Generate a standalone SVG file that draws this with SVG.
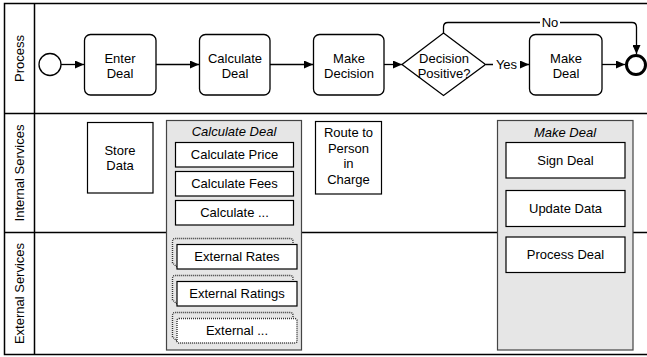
<svg xmlns="http://www.w3.org/2000/svg" width="647" height="357" viewBox="0 0 647 357">
  <style>
    text { font-family: "Liberation Sans", Arial, sans-serif; font-size: 13px; fill: #000; text-anchor: middle; }
    .lane { fill: none; stroke: #000; stroke-width: 1.5; }
    .task { fill: #fff; stroke: #000; stroke-width: 1.3; }
    .svc { fill: #fff; stroke: #000; stroke-width: 1.2; }
    .group { fill: #e6e6e6; stroke: #444; stroke-width: 1.2; }
    .ext { fill: none; stroke: #333; stroke-width: 1.4; stroke-dasharray: 1 1; }
    .extin { fill: #fff; stroke: #333; stroke-width: 1.4; stroke-dasharray: 1 1; }
    .flow { fill: none; stroke: #000; stroke-width: 1.3; }
    .title { font-style: italic; }
  </style>
  <defs>
    <marker id="arrow" markerUnits="userSpaceOnUse" markerWidth="10" markerHeight="8" refX="9" refY="4" orient="auto">
      <path d="M0,0 L9,4 L0,8 Z" fill="#000"/>
    </marker>
  </defs>

  <rect width="647" height="357" fill="#fff"/>

  <!-- pool frame and lanes -->
  <g id="pool">
    <path class="lane" d="M650,3.5 H4.5 V354.5 H650"/>
    <line class="lane" x1="34.5" y1="3.5" x2="34.5" y2="354.5"/>
    <line class="lane" x1="4.5" y1="113.5" x2="650" y2="113.5"/>
    <line class="lane" x1="4.5" y1="232.5" x2="650" y2="232.5"/>
    <text transform="translate(24,58.5) rotate(-90)">Process</text>
    <text transform="translate(24,173) rotate(-90)">Internal Services</text>
    <text transform="translate(24,293.5) rotate(-90)">External Services</text>
  </g>

  <!-- sequence flows -->
  <g id="connectors">
    <path class="flow" d="M61,64.5 H84" marker-end="url(#arrow)"/>
    <path class="flow" d="M156,64.5 H199" marker-end="url(#arrow)"/>
    <path class="flow" d="M270,64.5 H313" marker-end="url(#arrow)"/>
    <path class="flow" d="M384,64.5 H402" marker-end="url(#arrow)"/>
    <path class="flow" d="M486,64.5 H529" marker-end="url(#arrow)"/>
    <path class="flow" d="M602,64.5 H625" marker-end="url(#arrow)"/>
    <path class="flow" d="M443.5,33 V27 Q443.5,22.5 448,22.5 H632 Q636.5,22.5 636.5,27 V54" marker-end="url(#arrow)"/>
    <rect x="493" y="57" width="27" height="15" fill="#fff"/>
    <text x="506.5" y="69">Yes</text>
    <rect x="540" y="15" width="20" height="15" fill="#fff"/>
    <text x="550" y="27">No</text>
  </g>

  <!-- process lane -->
  <g id="start">
    <circle cx="50" cy="64.5" r="11" fill="#fff" stroke="#000" stroke-width="1.3"/>
  </g>
  <g id="enter-deal">
    <rect class="task" x="84.5" y="34.5" width="71.5" height="60.5" rx="6"/>
    <text x="120" y="62.5">Enter</text>
    <text x="120" y="77.5">Deal</text>
  </g>
  <g id="calculate-deal">
    <rect class="task" x="199.5" y="34.5" width="70.5" height="60.5" rx="6"/>
    <text x="235" y="62.5">Calculate</text>
    <text x="235" y="77.5">Deal</text>
  </g>
  <g id="make-decision">
    <rect class="task" x="313.5" y="34.5" width="70.5" height="60.5" rx="6"/>
    <text x="349" y="62.5">Make</text>
    <text x="349" y="77.5">Decision</text>
  </g>
  <g id="decision-gateway">
    <path d="M443.5,33 L485.5,64.5 L443.5,95.5 L402,64.5 Z" fill="#fff" stroke="#000" stroke-width="1.3"/>
    <text x="444" y="62.5">Decision</text>
    <text x="444" y="77.5">Positive?</text>
  </g>
  <g id="make-deal">
    <rect class="task" x="529.5" y="34.5" width="72.5" height="60.5" rx="6"/>
    <text x="566" y="62.5">Make</text>
    <text x="566" y="77.5">Deal</text>
  </g>
  <g id="end">
    <circle cx="636" cy="65" r="9.5" fill="#fff" stroke="#000" stroke-width="3"/>
  </g>

  <!-- internal services lane -->
  <g id="store-data">
    <rect class="svc" x="87.5" y="122.5" width="65.5" height="70.5"/>
    <text x="120" y="155">Store</text>
    <text x="120" y="170">Data</text>
  </g>
  <g id="route-to-person">
    <rect class="svc" x="315.5" y="121.5" width="66" height="72.5"/>
    <text x="348.5" y="137">Route to</text>
    <text x="348.5" y="152.5">Person</text>
    <text x="348.5" y="168">in</text>
    <text x="348.5" y="183.5">Charge</text>
  </g>

  <g id="calculate-deal-services">
    <rect class="group" x="166.5" y="120.5" width="135" height="229.5"/>
    <text class="title" x="234" y="136">Calculate Deal</text>
    <rect class="svc" x="175.5" y="142.5" width="118" height="24.5"/>
    <text x="234.5" y="159">Calculate Price</text>
    <rect class="svc" x="175.5" y="171.5" width="118" height="24.5"/>
    <text x="234.5" y="188">Calculate Fees</text>
    <rect class="svc" x="175.5" y="200.5" width="118" height="24.5"/>
    <text x="234.5" y="217">Calculate ...</text>

    <path class="ext" d="M177,267 L172.5,263 V241.5 Q172.5,238.5 175.5,238.5 H290 Q293,238.5 293,241.5 V244"/>
    <rect class="svc" x="177" y="244.5" width="120" height="24.5"/>
    <text x="237" y="261">External Rates</text>

    <path class="ext" d="M177,304 L172.5,300 V278.5 Q172.5,275.5 175.5,275.5 H290 Q293,275.5 293,278.5 V281"/>
    <rect class="svc" x="177" y="281.5" width="120" height="24.5"/>
    <text x="237" y="298">External Ratings</text>

    <path class="ext" d="M177,341 L172.5,337 V315.5 Q172.5,312.5 175.5,312.5 H290 Q293,312.5 293,315.5 V318"/>
    <rect class="extin" x="177" y="318.5" width="120" height="24.5" rx="2"/>
    <text x="237" y="335">External ...</text>
  </g>

  <g id="make-deal-services">
    <rect class="group" x="497.5" y="120.5" width="135.5" height="229.5"/>
    <text class="title" x="565" y="136.5">Make Deal</text>
    <rect class="svc" x="506" y="142.5" width="119" height="35.5"/>
    <text x="565.5" y="164.5">Sign Deal</text>
    <rect class="svc" x="506" y="190.5" width="119" height="36"/>
    <text x="565.5" y="213">Update Data</text>
    <rect class="svc" x="506" y="237" width="119" height="35.5"/>
    <text x="565.5" y="259">Process Deal</text>
  </g>
</svg>
